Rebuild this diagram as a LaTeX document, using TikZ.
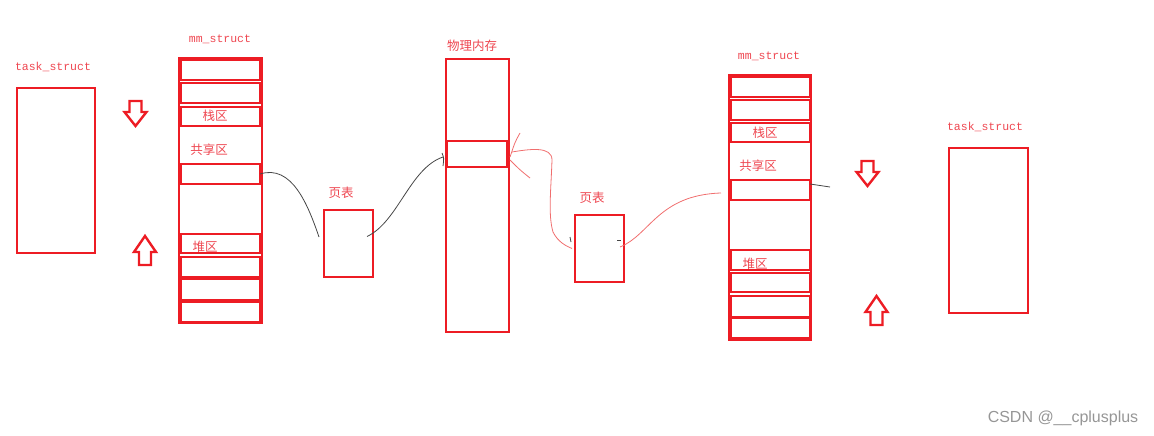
\documentclass[tikz,border=0pt]{standalone}
\usepackage{fontspec}
\setmonofont{Liberation Mono}
\newfontfamily\cjk{Noto Sans CJK SC}
\newfontfamily\wmfont{Liberation Sans}
\definecolor{boxred}{RGB}{237,28,36}
\definecolor{txtred}{RGB}{238,70,80}
\definecolor{penred}{RGB}{240,110,110}
\definecolor{pengray}{RGB}{70,70,70}
\definecolor{wmgray}{RGB}{150,150,150}
\tikzset{
  cell/.style={draw=boxred, line width=2.6pt, inner sep=0pt, outer sep=0pt},
  lat/.style={text=txtred, font=\ttfamily\fontsize{11.5}{13}\selectfont, inner sep=0pt},
  zh/.style={text=txtred, font=\cjk\fontsize{12.5}{14}\selectfont, inner sep=0pt},
  blk/.style={draw=pengray, line width=0.8pt},
  rpen/.style={draw=penred, line width=0.8pt},
  downarr/.pic={\draw[boxred, line width=2.4pt, line join=miter]
     (-6,0) -- (6,0) -- (6,11) -- (11,11) -- (0,25) -- (-11,11) -- (-6,11) -- cycle;},
  uparr/.pic={\draw[boxred, line width=2.4pt, line join=miter]
     (0,0) -- (11,16) -- (6,16) -- (6,29) -- (-6,29) -- (-6,16) -- (-11,16) -- cycle;},
}
\begin{document}
\begin{tikzpicture}[x=1pt,y=-1pt]
\useasboundingbox (0,0) rectangle (1154,436);
% left task_struct
\node[lat] (ltlab) at (53,67) {task\_struct};
\node[cell, minimum width=78pt, minimum height=165pt] (ltask) at (56,170.5) {};
\pic at (135.5,101) {downarr};
\pic at (145,236) {uparr};
% left mm_struct
\node[lat] (lmlab) at (220,39) {mm\_struct};
\node[cell, minimum width=83pt, minimum height=265pt] (lmm) at (220.5,190.5) {};
\node[cell, minimum width=79pt, minimum height=20pt] (lr1) at (220.5,70) {};
\node[cell, minimum width=79pt, minimum height=20pt] (lr2) at (220.5,93) {};
\node[cell, minimum width=79pt, minimum height=19pt] (lr3) at (220.5,116.5) {};
\node[cell, minimum width=79pt, minimum height=20pt] (lr4) at (220.5,174) {};
\node[cell, minimum width=79pt, minimum height=19pt] (lr5) at (220.5,243.5) {};
\node[cell, minimum width=79pt, minimum height=20pt] (lr6) at (220.5,267) {};
\node[cell, minimum width=79pt, minimum height=21pt] (lr7) at (220.5,289.5) {};
\node[cell, minimum width=79pt, minimum height=20pt] (lr8) at (220.5,312) {};
\node[zh] (lstack) at (215,116) {栈区};
\node[zh] (lshare) at (209,150) {共享区};
\node[zh] (lheap) at (205,247) {堆区};
% left page table
\node[zh] (lptlab) at (341,193) {页表};
\node[cell, minimum width=49pt, minimum height=67pt] (lpt) at (348.5,243.5) {};
% physical memory
\node[zh] (phlab) at (472,46) {物理内存};
\node[cell, minimum width=63pt, minimum height=273pt] (phys) at (477.5,195.5) {};
\node[cell, minimum width=60pt, minimum height=26pt] (frame) at (477,154) {};
% right page table
\node[zh] (rptlab) at (592,198) {页表};
\node[cell, minimum width=49pt, minimum height=67pt] (rpt) at (599.5,248.5) {};
% right mm_struct
\node[lat] (rmlab) at (769,56) {mm\_struct};
\node[cell, minimum width=82pt, minimum height=265pt] (rmm) at (770,207.5) {};
\node[cell, minimum width=79pt, minimum height=20pt] (rr1) at (770.5,87) {};
\node[cell, minimum width=79pt, minimum height=20pt] (rr2) at (770.5,110) {};
\node[cell, minimum width=79pt, minimum height=19pt] (rr3) at (770.5,132.5) {};
\node[cell, minimum width=79pt, minimum height=20pt] (rr4) at (770.5,190) {};
\node[cell, minimum width=79pt, minimum height=20pt] (rr5) at (770.5,260) {};
\node[cell, minimum width=79pt, minimum height=19pt] (rr6) at (770.5,282.5) {};
\node[cell, minimum width=79pt, minimum height=21pt] (rr7) at (770.5,306.5) {};
\node[cell, minimum width=79pt, minimum height=20pt] (rr8) at (770.5,328) {};
\node[zh] (rstack) at (765,133) {栈区};
\node[zh] (rshare) at (758,166) {共享区};
\node[zh] (rheap) at (755,264) {堆区};
\pic at (867.5,161) {downarr};
\pic at (876.5,296) {uparr};
% right task_struct
\node[lat] (rtlab) at (985,127) {task\_struct};
\node[cell, minimum width=79pt, minimum height=165pt] (rtask) at (988.5,230.5) {};
% connectors
\draw[blk] (lr4.east) .. controls (292,164) and (308,205) .. ([xshift=-5pt,yshift=6.5pt]lpt.west);
\draw[blk] ([xshift=-6pt,yshift=7pt]lpt.east) .. controls (398,222) and (410,168) .. ([xshift=-4pt,yshift=-3pt]frame.west);
\draw[blk] ([xshift=-5pt,yshift=1pt]frame.west) .. controls ([xshift=-3pt,yshift=-4pt]frame.west) .. ([xshift=-4pt,yshift=-12pt]frame.west);
\draw[rpen] ([xshift=5pt,yshift=2pt]frame.east) .. controls (530,149) and (552,146) .. (552,160)
  .. controls (551,190) and (548,215) .. (553,232) .. controls (558,242) and (566,246) .. ([xshift=-3pt]rpt.west);
\draw[rpen] ([xshift=3pt,yshift=-3pt]frame.east) .. controls (515,142) .. (520,133);
\draw[rpen] ([xshift=3pt,yshift=-6pt]frame.east) .. controls (520,170) .. (530,178);
\draw[rpen] ([xshift=-4pt,yshift=1.5pt]rpt.east) .. controls (650,235) and (658,195) .. ([xshift=-10pt,yshift=-3pt]rr4.west);
\coordinate (stub) at (830,187);
\draw[blk] ([yshift=6pt]rr4.east) -- (stub);
\draw[blk] (570,237) -- (571,242);
\draw[blk] (617,240) -- (621,240);
% watermark
\node[text=wmgray, font=\wmfont\fontsize{16}{18}\selectfont, inner sep=0pt] (wm) at (1063,418) {CSDN @\_\_cplusplus};
\end{tikzpicture}
\end{document}
